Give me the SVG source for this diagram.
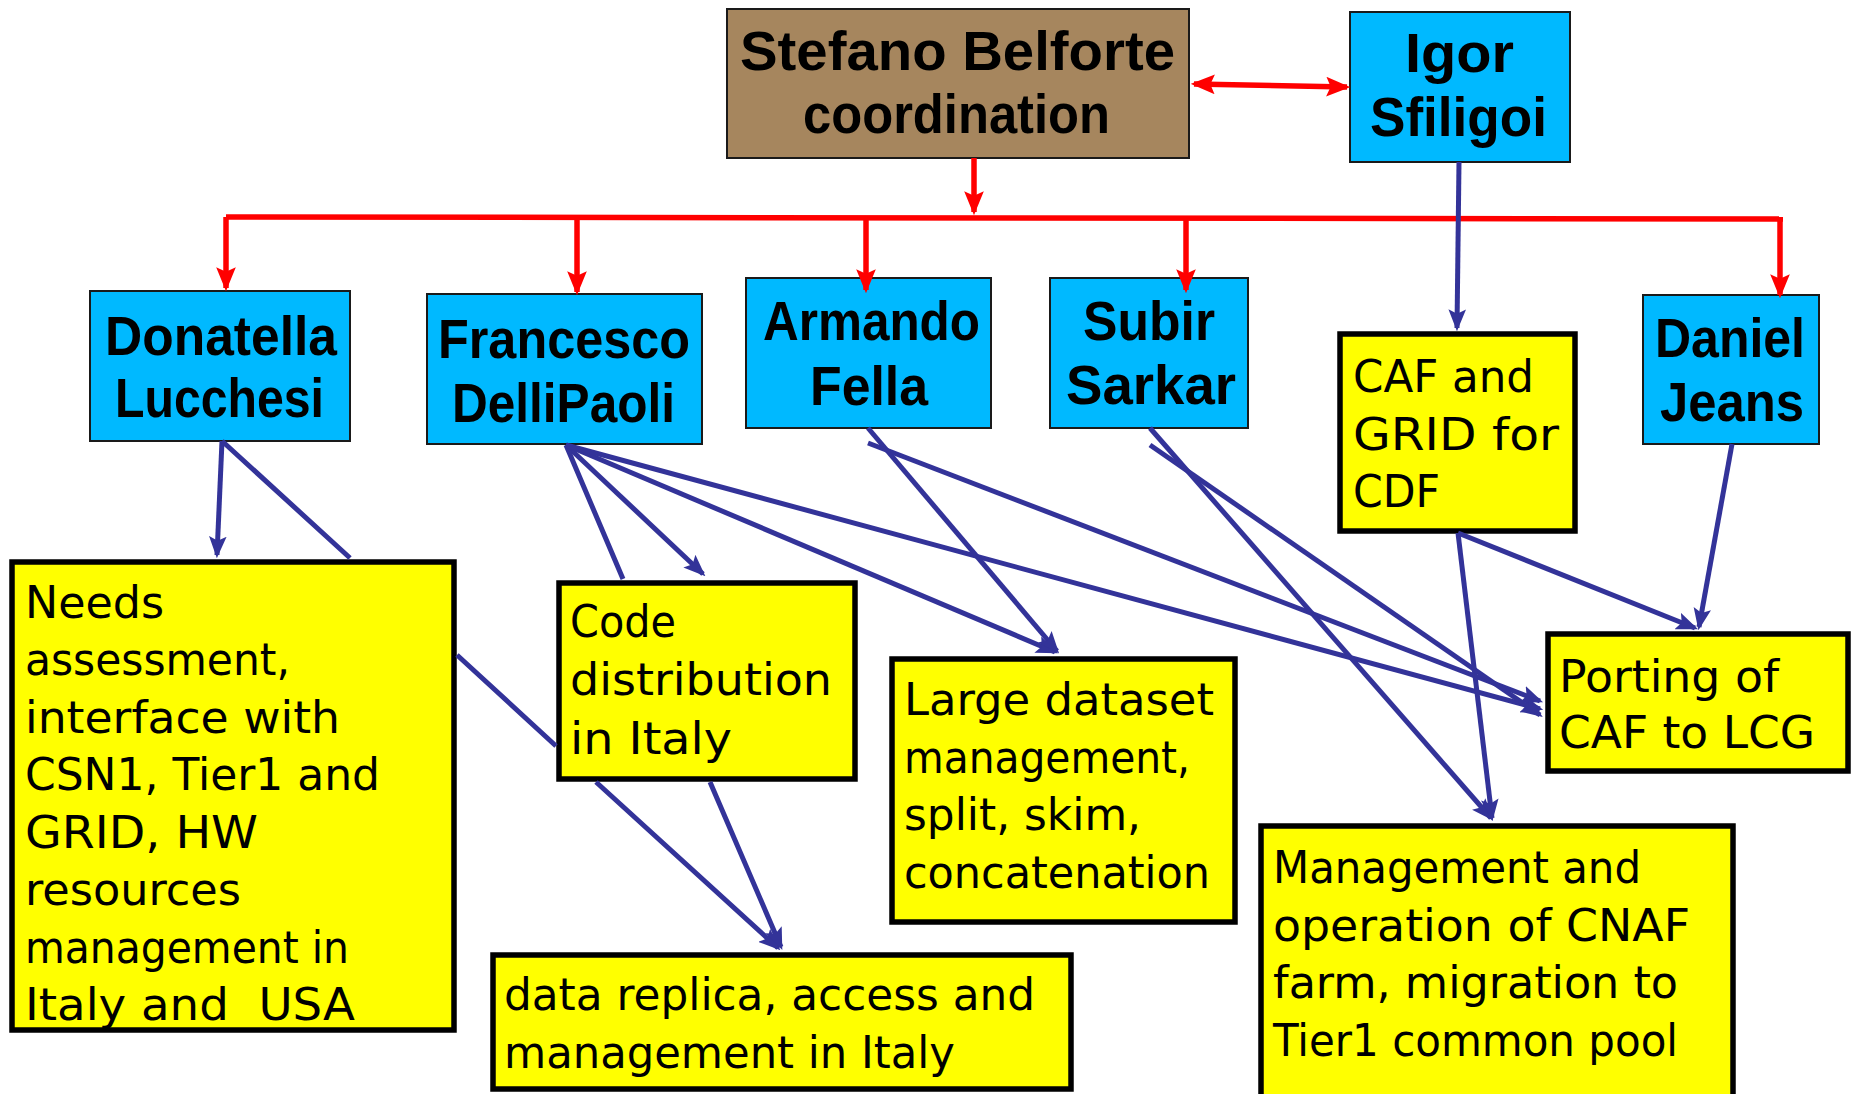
<svg xmlns="http://www.w3.org/2000/svg" width="1854" height="1094" viewBox="0 0 1854 1094">
<style>
.bg{fill:#ffffff}
.person{fill:#00B9FF;stroke:#1a1a1a;stroke-width:2}
.coord{fill:#A6865E;stroke:#1a1a1a;stroke-width:2}
.task{fill:#FFFF00;stroke:#000;stroke-width:5.5}
.name{font-family:"Liberation Sans",Arial,sans-serif;font-weight:bold;font-size:56px;fill:#000}
.txt{font-family:"DejaVu Sans","Liberation Sans",sans-serif;font-size:45px;fill:#000}
.red{fill:none;stroke:#FF0000;stroke-width:5.5}
.blue{fill:none;stroke:#333399;stroke-width:5}
</style>
<defs>
<marker id="ra" markerUnits="userSpaceOnUse" markerWidth="24" markerHeight="20" viewBox="0 0 22 18" refX="19" refY="9" orient="auto">
<path d="M0,0 L22,9 L0,18 L4,9 z" fill="#FF0000"/>
</marker>
<marker id="rs" markerUnits="userSpaceOnUse" markerWidth="24" markerHeight="20" viewBox="0 0 22 18" refX="3" refY="9" orient="auto">
<path d="M22,0 L0,9 L22,18 L18,9 z" fill="#FF0000"/>
</marker>
<marker id="ba" markerUnits="userSpaceOnUse" markerWidth="22" markerHeight="18" viewBox="0 0 20 16" refX="17" refY="8" orient="auto">
<path d="M0,0 L20,8 L0,16 L4,8 z" fill="#333399"/>
</marker>
</defs>
<rect class="bg" x="0" y="0" width="1854" height="1094"/>

<g id="n-stefano">
<rect class="coord" x="727" y="9" width="462" height="149"/>
<text class="name" x="740" y="70" textLength="435" lengthAdjust="spacingAndGlyphs">Stefano Belforte</text>
<text class="name" x="803" y="133" textLength="307" lengthAdjust="spacingAndGlyphs">coordination</text>
</g>
<g id="n-igor">
<rect class="person" x="1350" y="12" width="220" height="150"/>
<text class="name" x="1405" y="72" textLength="109" lengthAdjust="spacingAndGlyphs">Igor</text>
<text class="name" x="1370" y="136" textLength="177" lengthAdjust="spacingAndGlyphs">Sfiligoi</text>
</g>
<g id="n-donatella">
<rect class="person" x="90" y="291" width="260" height="150"/>
<text class="name" x="105" y="355" textLength="232" lengthAdjust="spacingAndGlyphs">Donatella</text>
<text class="name" x="115" y="417" textLength="209" lengthAdjust="spacingAndGlyphs">Lucchesi</text>
</g>
<g id="n-francesco">
<rect class="person" x="427" y="294" width="275" height="150"/>
<text class="name" x="438" y="358" textLength="252" lengthAdjust="spacingAndGlyphs">Francesco</text>
<text class="name" x="452" y="422" textLength="223" lengthAdjust="spacingAndGlyphs">DelliPaoli</text>
</g>
<g id="n-armando">
<rect class="person" x="746" y="278" width="245" height="150"/>
<text class="name" x="763" y="340" textLength="217" lengthAdjust="spacingAndGlyphs">Armando</text>
<text class="name" x="810" y="405" textLength="118" lengthAdjust="spacingAndGlyphs">Fella</text>
</g>
<g id="n-subir">
<rect class="person" x="1050" y="278" width="198" height="150"/>
<text class="name" x="1083" y="340" textLength="132" lengthAdjust="spacingAndGlyphs">Subir</text>
<text class="name" x="1066" y="404" textLength="170" lengthAdjust="spacingAndGlyphs">Sarkar</text>
</g>
<g id="n-daniel">
<rect class="person" x="1643" y="295" width="176" height="149"/>
<text class="name" x="1655" y="357" textLength="150" lengthAdjust="spacingAndGlyphs">Daniel</text>
<text class="name" x="1660" y="421" textLength="144" lengthAdjust="spacingAndGlyphs">Jeans</text>
</g>
<g id="n-cafgrid">
<rect class="task" x="1340" y="334" width="235" height="197"/>
<text class="txt" x="1353" y="392" textLength="181" lengthAdjust="spacingAndGlyphs">CAF and</text>
<text class="txt" x="1353" y="450" textLength="206" lengthAdjust="spacingAndGlyphs">GRID for</text>
<text class="txt" x="1353" y="507" textLength="87" lengthAdjust="spacingAndGlyphs">CDF</text>
</g>
<g id="n-needs">
<rect class="task" x="12" y="562" width="442" height="468"/>
<text class="txt" x="25" y="618" textLength="139" lengthAdjust="spacingAndGlyphs">Needs</text>
<text class="txt" x="25" y="675" textLength="265" lengthAdjust="spacingAndGlyphs">assessment,</text>
<text class="txt" x="25" y="733" textLength="315" lengthAdjust="spacingAndGlyphs">interface with</text>
<text class="txt" x="25" y="790" textLength="355" lengthAdjust="spacingAndGlyphs">CSN1, Tier1 and</text>
<text class="txt" x="25" y="848" textLength="233" lengthAdjust="spacingAndGlyphs">GRID, HW</text>
<text class="txt" x="25" y="905" textLength="216" lengthAdjust="spacingAndGlyphs">resources</text>
<text class="txt" x="25" y="963" textLength="324" lengthAdjust="spacingAndGlyphs">management in</text>
<text class="txt" x="25" y="1020" textLength="330" lengthAdjust="spacingAndGlyphs" xml:space="preserve">Italy and  USA</text>
</g>
<g id="n-code">
<rect class="task" x="559" y="583" width="296" height="196"/>
<text class="txt" x="570" y="637" textLength="106" lengthAdjust="spacingAndGlyphs">Code</text>
<text class="txt" x="570" y="695" textLength="262" lengthAdjust="spacingAndGlyphs">distribution</text>
<text class="txt" x="570" y="754" textLength="162" lengthAdjust="spacingAndGlyphs">in Italy</text>
</g>
<g id="n-large">
<rect class="task" x="892" y="659" width="343" height="263"/>
<text class="txt" x="904" y="715" textLength="310" lengthAdjust="spacingAndGlyphs">Large dataset</text>
<text class="txt" x="904" y="773" textLength="286" lengthAdjust="spacingAndGlyphs">management,</text>
<text class="txt" x="904" y="830" textLength="237" lengthAdjust="spacingAndGlyphs">split, skim,</text>
<text class="txt" x="904" y="888" textLength="306" lengthAdjust="spacingAndGlyphs">concatenation</text>
</g>
<g id="n-replica">
<rect class="task" x="493" y="955" width="578" height="134"/>
<text class="txt" x="504" y="1010" textLength="531" lengthAdjust="spacingAndGlyphs">data replica, access and</text>
<text class="txt" x="504" y="1068" textLength="451" lengthAdjust="spacingAndGlyphs">management in Italy</text>
</g>
<g id="n-porting">
<rect class="task" x="1548" y="634" width="300" height="137"/>
<text class="txt" x="1559" y="692" textLength="220" lengthAdjust="spacingAndGlyphs">Porting of</text>
<text class="txt" x="1559" y="748" textLength="256" lengthAdjust="spacingAndGlyphs">CAF to LCG</text>
</g>
<g id="n-cnaf">
<rect class="task" x="1261" y="826" width="472" height="300"/>
<text class="txt" x="1273" y="883" textLength="368" lengthAdjust="spacingAndGlyphs">Management and</text>
<text class="txt" x="1273" y="941" textLength="417" lengthAdjust="spacingAndGlyphs">operation of CNAF</text>
<text class="txt" x="1273" y="998" textLength="405" lengthAdjust="spacingAndGlyphs">farm, migration to</text>
<text class="txt" x="1273" y="1056" textLength="405" lengthAdjust="spacingAndGlyphs">Tier1 common pool</text>
</g>

<g id="connectors">
<line class="red" x1="1194" y1="84" x2="1347" y2="87" marker-start="url(#rs)" marker-end="url(#ra)"/>
<line class="red" x1="974" y1="158" x2="974" y2="212" marker-end="url(#ra)"/>
<line class="red" x1="226" y1="217" x2="1783" y2="219"/>
<line class="red" x1="226" y1="217" x2="226" y2="288" marker-end="url(#ra)"/>
<line class="red" x1="577" y1="217" x2="577" y2="292" marker-end="url(#ra)"/>
<line class="red" x1="866" y1="218" x2="866" y2="290" marker-end="url(#ra)"/>
<line class="red" x1="1186" y1="219" x2="1186" y2="290" marker-end="url(#ra)"/>
<line class="red" x1="1780" y1="219" x2="1780" y2="295" marker-end="url(#ra)"/>

<line class="blue" x1="1459" y1="162" x2="1457" y2="328" marker-end="url(#ba)"/>
<line class="blue" x1="222" y1="441" x2="217" y2="555" marker-end="url(#ba)"/>
<path class="blue" d="M222,441 L350,558 M457,655 L556,746 M596,782 L778,948" marker-end="url(#ba)"/>
<line class="blue" x1="566" y1="445" x2="703" y2="574" marker-end="url(#ba)"/>
<path class="blue" d="M566,445 L623,579 M710,782 L781,947" marker-end="url(#ba)"/>
<line class="blue" x1="566" y1="445" x2="1055" y2="652" marker-end="url(#ba)"/>
<line class="blue" x1="566" y1="445" x2="1540" y2="709" marker-end="url(#ba)"/>
<line class="blue" x1="868" y1="428" x2="1057" y2="651" marker-end="url(#ba)"/>
<line class="blue" x1="868" y1="443" x2="1540" y2="701" marker-end="url(#ba)"/>
<line class="blue" x1="1150" y1="428" x2="1491" y2="818" marker-end="url(#ba)"/>
<line class="blue" x1="1150" y1="445" x2="1540" y2="715" marker-end="url(#ba)"/>
<line class="blue" x1="1458" y1="533" x2="1492" y2="818" marker-end="url(#ba)"/>
<line class="blue" x1="1458" y1="533" x2="1695" y2="628" marker-end="url(#ba)"/>
<line class="blue" x1="1732" y1="444" x2="1699" y2="627" marker-end="url(#ba)"/>
</g>
</svg>
